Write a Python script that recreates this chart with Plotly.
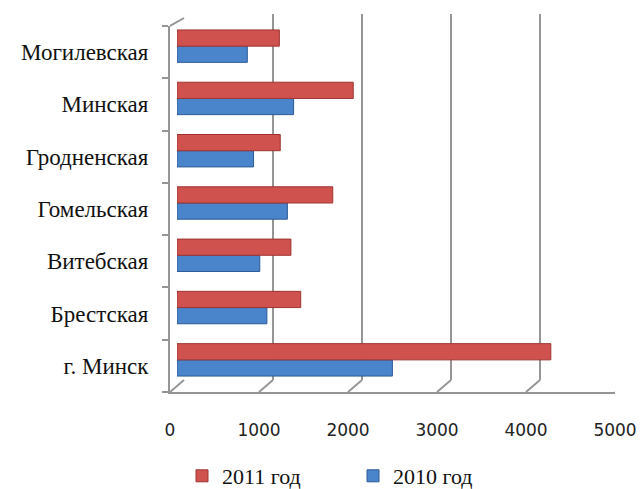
import plotly.graph_objects as go

categories = ["г. Минск", "Брестская", "Витебская", "Гомельская", "Гродненская", "Минская", "Могилевская"]
values_2010 = [2420, 1010, 930, 1240, 860, 1310, 790]
values_2011 = [4200, 1390, 1280, 1750, 1160, 1980, 1150]
x_ticks = [0, 1000, 2000, 3000, 4000, 5000]

W, H = 641, 489
def px(x): return x / W
def py(y): return 1 - y / H

serif = "Liberation Serif"
sans = "DejaVu Sans"
red, red_d = "#D0524F", "#9E3431"
blue, blue_d = "#4A84CB", "#2C5B95"
grid = "#959595"

fig = go.Figure()
# back wall grid (drawn first, behind everything)
fig.add_trace(go.Scatter(y=[0, 1], x=[0, 0], mode="markers", opacity=0,
                         showlegend=False, hoverinfo="skip", xaxis="x", yaxis="y"))
# front axis with labels
fig.add_trace(go.Scatter(y=categories, x=[0]*len(categories), mode="markers", opacity=0,
                         showlegend=False, hoverinfo="skip", xaxis="x2", yaxis="y2"))
# bars
fig.add_trace(go.Bar(y=categories, x=values_2010, orientation="h", name="2010 год",
                     marker=dict(color=blue, line=dict(color=blue_d, width=1)),
                     xaxis="x3", yaxis="y3", legendrank=2))
fig.add_trace(go.Bar(y=categories, x=values_2011, orientation="h", name="2011 год",
                     marker=dict(color=red, line=dict(color=red_d, width=1)),
                     xaxis="x3", yaxis="y3", legendrank=1))

xr = [0, 5000]
fig.update_layout(
    width=W, height=H, margin=dict(l=0, r=0, t=0, b=0, autoexpand=False),
    paper_bgcolor="white", plot_bgcolor="rgba(0,0,0,0)",
    barmode="group", bargap=0.38, bargroupgap=0.0,
    xaxis=dict(domain=[px(184), px(629)], range=xr, anchor="y", tickvals=x_ticks,
               showgrid=True, gridcolor=grid, gridwidth=2, showticklabels=False,
               zeroline=False, ticks="", automargin=False),
    yaxis=dict(domain=[py(380), py(14)], range=[0, 1], anchor="x", visible=False,
               showgrid=False, zeroline=False, automargin=False),
    xaxis2=dict(domain=[px(170), px(615)], range=xr, anchor="y2", tickvals=x_ticks,
                showgrid=False, zeroline=False, showline=True, linecolor=grid, linewidth=2,
                ticks="", ticklabelstandoff=22, automargin=False,
                tickfont=dict(family=sans, size=17, color="#222")),
    yaxis2=dict(domain=[py(392), py(26)], type="category", categoryarray=categories,
                range=[-0.5, 6.5], anchor="x2", showgrid=False, showline=True, linecolor=grid,
                linewidth=2, ticks="outside", tickson="boundaries", ticklen=6, tickwidth=2,
                tickcolor=grid, ticklabelstandoff=15, automargin=False,
                tickfont=dict(family=serif, size=23, color="#111")),
    xaxis3=dict(domain=[px(177), px(622)], range=xr, visible=False, anchor="y3",
                automargin=False),
    yaxis3=dict(domain=[py(386), py(20)], type="category", categoryarray=categories,
                range=[-0.5, 6.5], visible=False, anchor="x3", automargin=False),
    legend=dict(orientation="h", x=px(182), y=py(476), xanchor="left", yanchor="middle",
                font=dict(family=serif, size=22, color="#111"), entrywidth=126,
                itemwidth=30, traceorder="normal", tracegroupgap=0),
)

shapes = []
for v in x_ticks:
    shapes.append(dict(type="line", xref="x2", xsizemode="pixel", xanchor=v, x0=0, x1=14,
                       yref="y2 domain", ysizemode="pixel", yanchor=0, y0=0, y1=12,
                       line=dict(color=grid, width=2)))
shapes.append(dict(type="line", xref="x2", xsizemode="pixel", xanchor=0, x0=0, x1=14,
                   yref="y2 domain", ysizemode="pixel", yanchor=1, y0=0, y1=8,
                   line=dict(color=grid, width=2)))
fig.update_layout(shapes=shapes)

fig.write_html("out.html", config={"displayModeBar": False},
               post_script="document.body.style.margin='0px';")
